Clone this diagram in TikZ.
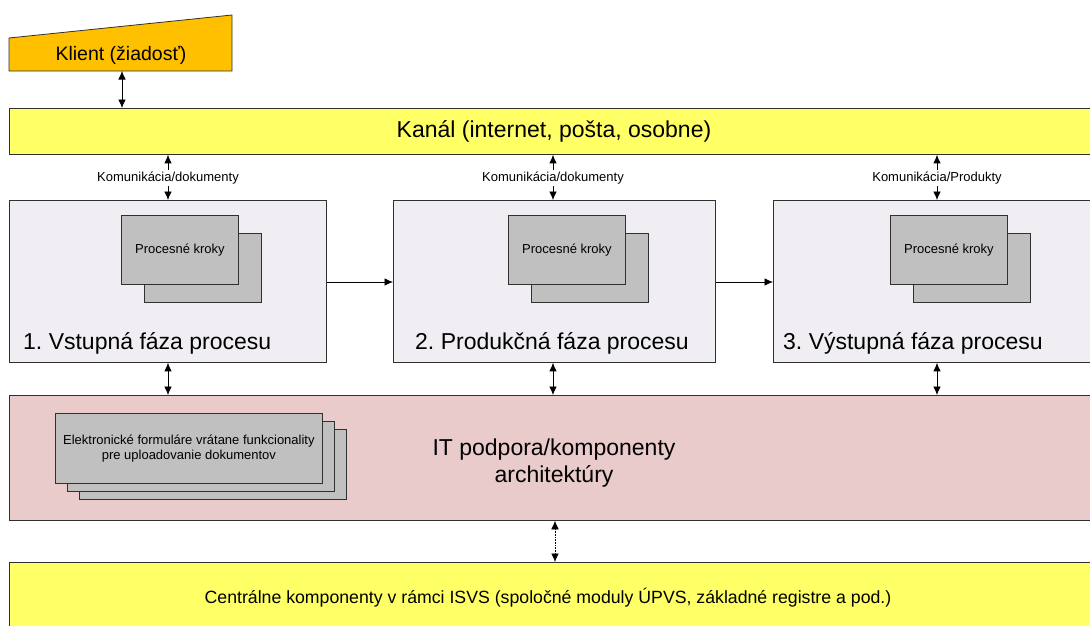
\documentclass[tikz,border=0pt]{standalone}
\usepackage{fontspec}
\setmainfont{Liberation Sans}
\usetikzlibrary{arrows.meta}
\definecolor{orng}{HTML}{FFC000}
\definecolor{ylw}{HTML}{FFFF66}
\definecolor{phs}{HTML}{F0EEF3}
\definecolor{itc}{HTML}{EACBCB}
\definecolor{gry}{HTML}{C0C0C0}
\definecolor{edge}{HTML}{303030}
\frenchspacing
\begin{document}
\begin{tikzpicture}[x=1pt,y=-1pt,
 box/.style={draw=edge, line width=0.8pt, inner sep=0pt, anchor=north west},
 big/.style={font=\fontsize{23}{27.6}\selectfont},
 mid/.style={font=\fontsize{17.7}{21}\selectfont},
 small/.style={font=\fontsize{13}{15}\selectfont},
 stepbox/.style={box, fill=gry, minimum width=117pt, minimum height=69pt, small},
 formbox/.style={box, fill=gry, minimum width=267pt, minimum height=70pt, small, align=center},
 phasebox/.style={box, fill=phs, minimum height=162pt},
 dbl/.style={{Latex[length=8.5pt,width=7.5pt]}-{Latex[length=8.5pt,width=7.5pt]}, line width=0.8pt},
 one/.style={-{Latex[length=8.5pt,width=7.5pt]}, line width=0.8pt},
 lbl/.style={small, fill=white, inner sep=1.5pt},
]
\useasboundingbox (0,0) rectangle (1090,625);
\clip (0,0) rectangle (1090,625);

% Klient
\draw[draw=edge, line width=0.8pt, fill=orng] (9,38) -- (232,15) -- (232,71) -- (9,71) -- cycle;
\node[font=\fontsize{19.5}{23}\selectfont] (klient) at (121,55) {Klient (žiadosť)};
\coordinate (kl) at (122,71);

% Kanal
\node[box, fill=ylw, minimum width=1095pt, minimum height=46pt] (kanal) at (9,108) {};
\node[big] (kanaltxt) at (554,131) {Kanál (internet, pošta, osobne)};

% phases
\node[phasebox, minimum width=317pt] (p1) at (9,200) {};
\node[phasebox, minimum width=322pt] (p2) at (393,200) {};
\node[phasebox, minimum width=330pt] (p3) at (773,200) {};
\node[big, anchor=base west, inner sep=0pt] (p1t) at (23,349) {1. Vstupná fáza procesu};
\node[big, anchor=base west, inner sep=0pt] (p2t) at (415,349) {2. Produkčná fáza procesu};
\node[big, anchor=base west, inner sep=0pt] (p3t) at (783,349) {3. Výstupná fáza procesu};

% process steps
\node[stepbox] (b1) at (144,233) {};
\node[stepbox] (f1) at (121,215) {Procesné kroky};
\node[stepbox] (b2) at (531,233) {};
\node[stepbox] (f2) at (508,215) {Procesné kroky};
\node[stepbox] (b3) at (913,233) {};
\node[stepbox] (f3) at (890,215) {Procesné kroky};

% IT
\node[box, fill=itc, minimum width=1095pt, minimum height=125pt] (it) at (9,395) {};
\node[big, align=center] (ittxt) at (554,463) {IT podpora/komponenty\\architektúry};
\node[formbox] (fm3) at (79,429) {};
\node[formbox] (fm2) at (67,421) {};
\node[formbox] (fm1) at (55,413) {Elektronické formuláre vrátane funkcionality\\pre uploadovanie dokumentov};

% central
\node[box, fill=ylw, minimum width=1095pt, minimum height=80pt] (central) at (9,562) {};
\node[mid] (centtxt) at (548,598) {Centrálne komponenty v rámci ISVS (spoločné moduly ÚPVS, základné registre a pod.)};

% connectors
\coordinate (x1) at (168,0);
\coordinate (x2) at (553,0);
\coordinate (x3) at (937,0);
\coordinate (x4) at (555,0);
\coordinate (hy) at (0,282);

\draw[dbl] (kl) -- (kl |- kanal.north);

\draw[dbl] (kanal.south -| x1) -- (p1.north -| x1);
\draw[dbl] (kanal.south -| x2) -- (p2.north -| x2);
\draw[dbl] (kanal.south -| x3) -- (p3.north -| x3);
\node[lbl] (l1) at (168,178) {Komunikácia/dokumenty};
\node[lbl] (l2) at (553,178) {Komunikácia/dokumenty};
\node[lbl] (l3) at (937,178) {Komunikácia/Produkty};

\draw[one] (p1.east |- hy) -- (p2.west |- hy);
\draw[one] (p2.east |- hy) -- (p3.west |- hy);

\draw[dbl] (p1.south -| x1) -- (it.north -| x1);
\draw[dbl] (p2.south -| x2) -- (it.north -| x2);
\draw[dbl] (p3.south -| x3) -- (it.north -| x3);

\draw[dbl, line width=0.6pt, densely dotted] (it.south -| x4) -- (central.north -| x4);
\end{tikzpicture}
\end{document}
